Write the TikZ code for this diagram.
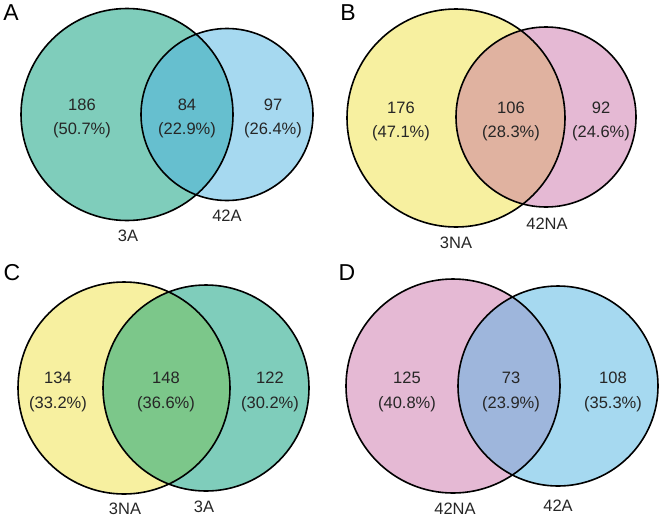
\documentclass[tikz,border=0pt]{standalone}
\usepackage{fontspec}
\setmainfont{Liberation Sans}
\definecolor{tealc}{RGB}{127,205,187}
\definecolor{bluec}{RGB}{166,217,240}
\definecolor{yellowc}{RGB}{247,240,160}
\definecolor{pinkc}{RGB}{229,185,212}
\definecolor{ovA}{RGB}{102,191,207}
\definecolor{ovB}{RGB}{224,178,160}
\definecolor{ovC}{RGB}{124,199,138}
\definecolor{ovD}{RGB}{158,182,220}
\tikzset{
  ring/.style={draw=black, line width=1.6pt},
  num/.style={anchor=base, inner sep=0pt, font=\fontsize{16.5}{18}\selectfont, text=black!85},
  setlabel/.style={anchor=base, inner sep=0pt, font=\fontsize{16.5}{18}\selectfont, text=black!85},
  panel/.style={anchor=center, inner sep=0pt, font=\fontsize{23}{24}\selectfont}
}
\begin{document}
\begin{tikzpicture}[x=1pt,y=-1pt]
\useasboundingbox (0,0) rectangle (666,517);
% ---------- Panel A ----------
\coordinate (a1) at (127,114.5);
\coordinate (a2) at (227,114.5);
\fill[tealc] (a1) circle[radius=106];
\fill[bluec] (a2) circle[radius=86];
\begin{scope}
  \clip (a1) circle[radius=106];
  \fill[ovA] (a2) circle[radius=86];
\end{scope}
\draw[ring] (a1) circle[radius=106];
\draw[ring] (a2) circle[radius=86];
\node[panel] (pA) at (11,13) {A};
\node[num] (a1n) at (82,110) {186};
\node[num] (a1p) at (82,134) {(50.7\%)};
\node[num] (a12n) at (187,110) {84};
\node[num] (a12p) at (187,134) {(22.9\%)};
\node[num] (a2n) at (273,110) {97};
\node[num] (a2p) at (273,134) {(26.4\%)};
\node[setlabel] (a2l) at (227,221) {42A};
\node[setlabel] (a1l) at (128,241) {3A};
% ---------- Panel B ----------
\coordinate (b1) at (456,118);
\coordinate (b2) at (546,117);
\fill[yellowc] (b1) circle[radius=109];
\fill[pinkc] (b2) circle[radius=90];
\begin{scope}
  \clip (b1) circle[radius=109];
  \fill[ovB] (b2) circle[radius=90];
\end{scope}
\draw[ring] (b1) circle[radius=109];
\draw[ring] (b2) circle[radius=90];
\node[panel] (pB) at (348,13) {B};
\node[num] (b1n) at (401,113) {176};
\node[num] (b1p) at (401,137) {(47.1\%)};
\node[num] (b12n) at (511,113) {106};
\node[num] (b12p) at (511,137) {(28.3\%)};
\node[num] (b2n) at (601,113) {92};
\node[num] (b2p) at (601,137) {(24.6\%)};
\node[setlabel] (b2l) at (547,229) {42NA};
\node[setlabel] (b1l) at (456,248) {3NA};
% ---------- Panel C ----------
\coordinate (c1) at (124,388);
\coordinate (c2) at (206,388);
\fill[yellowc] (c1) circle[radius=106];
\fill[tealc] (c2) circle[radius=103];
\begin{scope}
  \clip (c1) circle[radius=106];
  \fill[ovC] (c2) circle[radius=103];
\end{scope}
\draw[ring] (c1) circle[radius=106];
\draw[ring] (c2) circle[radius=103];
\node[panel] (pC) at (12,273) {C};
\node[num] (c1n) at (58,383) {134};
\node[num] (c1p) at (58,408) {(33.2\%)};
\node[num] (c12n) at (166,383) {148};
\node[num] (c12p) at (166,408) {(36.6\%)};
\node[num] (c2n) at (270,383) {122};
\node[num] (c2p) at (270,408) {(30.2\%)};
\node[setlabel] (c1l) at (125,514) {3NA};
\node[setlabel] (c2l) at (204,512) {3A};
% ---------- Panel D ----------
\coordinate (d1) at (453,386);
\coordinate (d2) at (558,386);
\fill[pinkc] (d1) circle[radius=107];
\fill[bluec] (d2) circle[radius=100];
\begin{scope}
  \clip (d1) circle[radius=107];
  \fill[ovD] (d2) circle[radius=100];
\end{scope}
\draw[ring] (d1) circle[radius=107];
\draw[ring] (d2) circle[radius=100];
\node[panel] (pD) at (347,273) {D};
\node[num] (d1n) at (407,383) {125};
\node[num] (d1p) at (407,408) {(40.8\%)};
\node[num] (d12n) at (511,383) {73};
\node[num] (d12p) at (511,408) {(23.9\%)};
\node[num] (d2n) at (613,383) {108};
\node[num] (d2p) at (613,408) {(35.3\%)};
\node[setlabel] (d1l) at (455,514) {42NA};
\node[setlabel] (d2l) at (558,511) {42A};
\end{tikzpicture}
\end{document}
